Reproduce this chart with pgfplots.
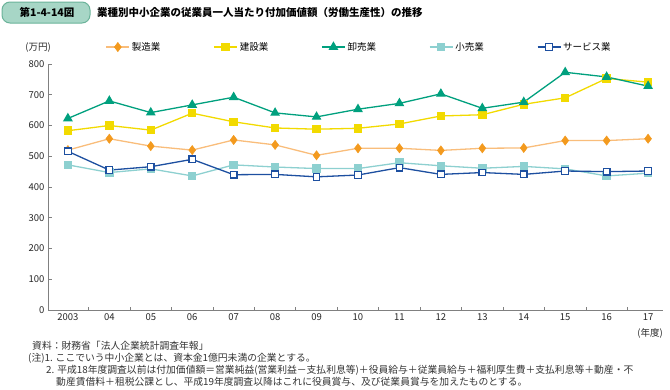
\documentclass[border=0pt]{standalone}
\usepackage{pgfplots}
\pgfplotsset{compat=1.18}
\usepackage{pgfplotstable}
\usepackage{fontspec}
\setmainfont{Noto Sans CJK JP}
\definecolor{orline}{HTML}{F9BD7B}
\definecolor{ormark}{HTML}{F39A1E}
\definecolor{yel}{HTML}{F2DA00}
\definecolor{grn}{HTML}{00A07E}
\definecolor{teal2}{HTML}{8DD0D0}
\definecolor{blu}{HTML}{1D4FA0}
\definecolor{axgray}{HTML}{808080}
\definecolor{bannerfill}{HTML}{A7D6C6}
\definecolor{bannerdraw}{HTML}{6BB39A}
\pgfplotstableread{
x man con whl ret ser
0 520 583 623 472 516
1 557 600 680 447 455
2 533 585 642 459 466
3 520 640 667 436 490
4 553 612 692 472 440
5 537 592 641 465 441
6 503 588 628 460 433
7 526 591 653 460 439
8 526 605 672 479 463
9 519 631 703 469 441
10 526 635 656 461 447
11 527 669 676 467 441
12 551 690 773 459 452
13 551 753 758 436 450
14 557 741 728 445 452
}\data
\begin{document}
\begin{tikzpicture}
\useasboundingbox (0pt,0pt) rectangle (670pt,-389pt);
% banner
\draw[bannerdraw, line width=1pt, fill=bannerfill, rounded corners=8pt] (2pt,-2pt) rectangle (90pt,-23pt);
\node[anchor=center, font=\fontsize{10.5}{12}\selectfont\bfseries] at (47pt,-12.5pt) {第1-4-14図};
\node[anchor=west, inner sep=0pt, font=\fontsize{10.5}{12}\selectfont\bfseries] at (97pt,-13pt) {業種別中小企業の従業員一人当たり付加価値額（労働生産性）の推移};
\begin{axis}[
  at={(48pt,-310pt)}, anchor=south west,
  scale only axis, width=615pt, height=246pt,
  xmin=-0.48, xmax=14.36, ymin=0, ymax=800,
  axis x line*=bottom, axis y line*=left,
  axis line style={axgray, line width=0.8pt},
  every tick/.style={axgray, line width=0.8pt},
  tick align=inside,
  xtick={0,...,14},
  xticklabels={2003,04,05,06,07,08,09,10,11,12,13,14,15,16,17},
  major x tick style={draw=none},
  minor xtick={0.5,1.5,...,13.5},
  minor tick length=3pt,
  ytick={0,100,...,800},
  major tick length=4pt,
  tick label style={font=\fontsize{9.5}{11}\selectfont, text=black!85},
  /pgf/number format/assume math mode=true,
  yticklabel style={/pgf/number format/1000 sep={}},
  clip=false,
  legend columns=5,
  legend style={at={(0.506,1.069)}, anchor=center, draw=none, fill=none,
    font=\fontsize{9.5}{11}\selectfont,
    /tikz/every even column/.append style={column sep=51pt}},
  legend image code/.code={\draw[mark repeat=2,mark phase=2] plot coordinates {(0pt,0pt)(11.5pt,0pt)(23pt,0pt)};},
]
\addplot[orline, line width=1.3pt, mark=diamond*, mark size=4.6pt, mark options={fill=ormark, draw=ormark, line width=0.5pt}] table[x=x,y=man]{\data};
\addlegendentry{製造業}
\addplot[yel, line width=1.3pt, mark=square*, mark size=3.6pt, mark options={fill=yel, draw=yel}] table[x=x,y=con]{\data};
\addlegendentry{建設業}
\addplot[grn, line width=1.3pt, mark=triangle*, mark size=4.4pt, mark options={fill=grn, draw=grn}] table[x=x,y=whl]{\data};
\addlegendentry{卸売業}
\addplot[teal2, line width=1.3pt, mark=square*, mark size=3.6pt, mark options={fill=teal2, draw=teal2}] table[x=x,y=ret]{\data};
\addlegendentry{小売業}
\addplot[blu, line width=1.3pt, mark=square*, mark size=3.3pt, mark options={fill=white, draw=blu, line width=1.2pt}] table[x=x,y=ser]{\data};
\addlegendentry{サービス業}
\end{axis}
\node[font=\fontsize{9.5}{11}\selectfont, text=black!85] at (38pt,-48pt) {(万円)};
\node[font=\fontsize{9.5}{11}\selectfont, text=black!85] at (650pt,-333pt) {(年度)};
\begin{scope}[every node/.style={anchor=west, inner sep=0pt, font=\fontsize{9.8}{12}\selectfont, text=black!80}]
\node at (32pt,-346pt) {資料：財務省「法人企業統計調査年報」};
\node at (28pt,-358pt) {(注)1. ここでいう中小企業とは、資本金1億円未満の企業とする。};
\node at (46pt,-370pt) {2. 平成18年度調査以前は付加価値額＝営業純益(営業利益－支払利息等)＋役員給与＋従業員給与＋福利厚生費＋支払利息等＋動産・不};
\node at (56pt,-382pt) {動産賃借料＋租税公課とし、平成19年度調査以降はこれに役員賞与、及び従業員賞与を加えたものとする。};
\end{scope}
\end{tikzpicture}
\end{document}
